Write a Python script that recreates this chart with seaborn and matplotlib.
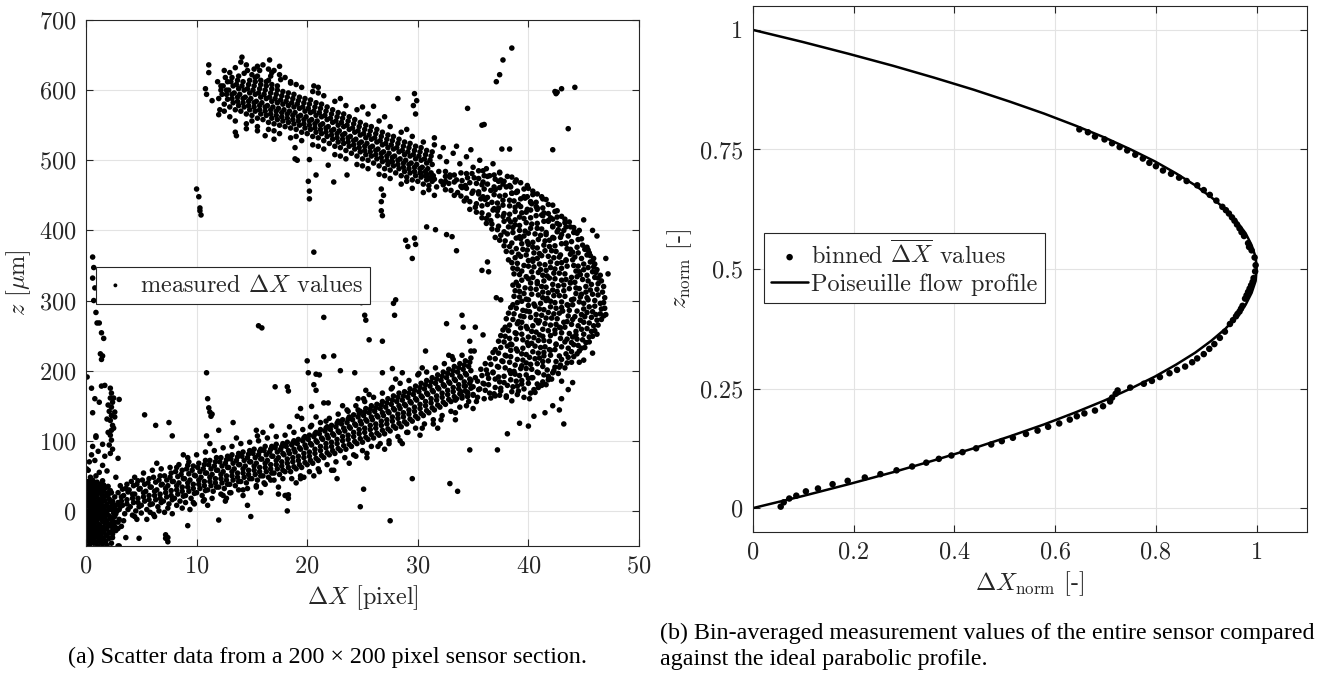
import matplotlib
matplotlib.use("Agg")
import matplotlib.pyplot as plt
import pandas as pd
import seaborn as sns

# ---------------------------------------------------------------
# (a) scatter of measured displacement vs. height
# ---------------------------------------------------------------
# dense blob near the origin
cluster = [
    (0.3, -49), (0.7, -46), (1.1, -50), (1.5, -47),
    (0.1, -43), (0.5, -40), (0.9, -44), (1.3, -41), (1.8, -43),
    (0.2, -35), (0.6, -38), (1.0, -34), (1.4, -37), (1.9, -35), (2.4, -38),
    (0.1, -29), (0.4, -31), (0.8, -28), (1.2, -32), (1.6, -29), (2.1, -31), (2.7, -28),
    (0.2, -24), (0.6, -22), (1.0, -26), (1.4, -23), (1.8, -25), (2.3, -22), (2.9, -25),
    (0.1, -17), (0.4, -19), (0.8, -16), (1.2, -20), (1.7, -17), (2.2, -19), (2.6, -16),
    (0.2, -12), (0.6, -10), (1.0, -13), (1.4, -11), (1.9, -14), (2.4, -10), (3.0, -12),
    (0.1, -5), (0.4, -7), (0.8, -4), (1.2, -8), (1.6, -5), (2.1, -7), (2.7, -4),
    (0.2, 0), (0.6, 2), (1.0, -1), (1.4, 1), (1.8, -2), (2.3, 2), (2.8, 0),
    (0.1, 7), (0.4, 5), (0.8, 8), (1.2, 4), (1.7, 7), (2.2, 5), (2.6, 8), (3.1, 6),
    (0.2, 12), (0.6, 14), (1.0, 11), (1.4, 13), (1.9, 10), (2.4, 14), (2.9, 12),
    (0.1, 19), (0.4, 17), (0.8, 20), (1.2, 16), (1.6, 19), (2.1, 17), (2.6, 20),
    (0.2, 24), (0.6, 26), (1.0, 23), (1.4, 25), (1.8, 22), (2.3, 26),
    (0.1, 31), (0.5, 29), (0.9, 32), (1.3, 30), (1.8, 33), (2.2, 29),
    (0.3, 36), (0.7, 38), (1.1, 35), (1.6, 37),
    (0.2, 42), (0.6, 44), (1.0, 41), (1.5, 43),
    (0.4, 48), (0.9, 50),
]
cluster_fill = [
    (0.5, -45), (0.9, -46), (1.3, -44),
    (0.3, -39), (0.7, -40), (1.1, -38), (1.6, -40), (2.1, -39),
    (0.3, -33), (0.6, -32), (1.0, -35), (1.4, -32), (1.8, -34), (2.4, -33),
    (0.3, -27), (0.6, -26), (1.0, -29), (1.4, -27), (1.9, -26), (2.4, -28),
    (0.4, -21), (0.8, -22), (1.2, -20), (1.6, -23), (2.0, -21), (2.6, -22),
    (0.3, -15), (0.6, -14), (1.0, -16), (1.5, -15), (1.9, -17), (2.4, -15), (2.9, -16),
    (0.3, -9), (0.8, -8), (1.2, -10), (1.7, -9), (2.2, -11), (2.6, -8),
    (0.3, -3), (0.6, -2), (1.0, -4), (1.4, -3), (1.9, -5), (2.5, -3),
    (0.4, 3), (0.8, 2), (1.2, 4), (1.6, 3), (2.0, 1), (2.6, 3),
    (0.3, 9), (0.6, 10), (1.0, 8), (1.4, 9), (1.9, 7), (2.4, 10), (2.9, 9),
    (0.4, 15), (0.8, 14), (1.2, 16), (1.7, 15), (2.2, 13),
    (0.3, 21), (0.6, 22), (1.0, 20), (1.5, 21), (2.0, 23),
    (0.4, 27), (0.8, 28), (1.2, 26), (1.6, 28), (2.0, 26),
    (0.3, 33), (0.7, 34), (1.1, 32), (1.5, 34), (2.0, 35),
    (0.5, 39), (0.9, 40), (1.3, 38),
]
cluster_edge = [
    (3.4, -14), (3.6, -38), (2.3, -46), (1.9, -49), (2.9, -50), (3.2, -22),
    (0.35, -20), (0.55, 10), (0.75, -32), (0.95, 22), (1.15, -6), (1.35, -28),
    (0.05, 60), (0.3, 70), (0.8, 72), (1.1, 85), (0.6, 92), (1.5, 65), (1.2, 55),
    (0.2, 58), (1.9, 57), (2.7, 48), (0.9, 105), (1.5, 95), (2.9, 75), (0.5, 80), (1.7, 78),
]
# thin vertical streaks close to dx = 0..2.5
streaks = [
    (2.2, 175), (2.3, 168), (2.2, 161), (2.4, 155), (2.3, 148), (2.1, 142), (2.3, 136),
    (2.2, 129), (2.4, 122), (2.3, 115), (2.2, 108), (2.3, 101), (2.1, 94), (2.5, 161),
    (2.0, 151), (2.6, 141), (1.9, 131), (2.6, 134), (2.4, 88), (2.2, 82), (3.0, 159),
    (2.5, 118), (2.0, 112),
    (0.6, 362), (0.7, 347), (0.6, 332), (0.8, 318), (0.7, 300), (0.9, 283), (1.0, 268),
    (1.2, 268), (1.4, 254), (1.6, 246), (1.3, 224), (1.4, 216), (1.5, 221), (0.1, 191),
    (0.5, 175), (1.4, 178), (1.7, 179), (0.6, 140), (0.9, 107), (1.2, 155), (0.8, 160),
]
# lower branch of the band
lower_arm = [
    (3.0, 2), (3.2, 14), (2.9, 26), (3.1, 36),
    (3.5, -4), (3.7, 10), (3.4, 22), (3.6, 32),
    (4.0, 6), (4.2, 18), (3.9, 30), (4.1, 42),
    (4.5, 0), (4.7, 12), (4.4, 24), (4.6, 38),
    (5.0, 8), (5.2, 20), (4.9, 32), (5.1, 44),
    (5.5, 2), (5.7, 16), (5.4, 28), (5.6, 40),
    (6.0, 10), (6.2, 22), (5.9, 34), (6.1, 48),
    (6.5, 6), (6.7, 18), (6.4, 30), (6.6, 44),
    (7.0, 14), (7.2, 26), (6.9, 38), (7.1, 50),
    (7.5, 10), (7.7, 22), (7.4, 36), (7.6, 48),
    (8.0, 18), (8.2, 30), (7.9, 42), (8.1, 56),
    (8.5, 14), (8.7, 28), (8.4, 40), (8.6, 52),
    (9.0, 22), (9.2, 34), (8.9, 46), (9.1, 60), (9.3, 70),
    (9.5, 18), (9.7, 32), (9.4, 44), (9.6, 58),
    (10.0, 26), (10.2, 38), (9.9, 50), (10.1, 62),
    (10.5, 22), (10.7, 36), (10.4, 48), (10.6, 60), (10.8, 72),
    (11.0, 30), (11.2, 42), (10.9, 54), (11.1, 66),
    (11.5, 28), (11.7, 40), (11.4, 52), (11.6, 64), (11.8, 76),
    (12.0, 34), (12.2, 46), (11.9, 58), (12.1, 70),
    (12.5, 32), (12.7, 44), (12.4, 56), (12.6, 68), (12.8, 78),
    (13.0, 38), (13.2, 50), (12.9, 62), (13.1, 74),
    (13.5, 36), (13.7, 48), (13.4, 60), (13.6, 72), (13.8, 82),
    (14.0, 42), (14.2, 54), (13.9, 66), (14.1, 78),
    (14.5, 40), (14.7, 52), (14.4, 64), (14.6, 76), (14.8, 86),
    (15.0, 46), (15.2, 58), (14.9, 70), (15.1, 82),
    (15.5, 44), (15.7, 56), (15.4, 68), (15.6, 80), (15.8, 88),
    (16.0, 50), (16.2, 62), (15.9, 74), (16.1, 86),
    (16.5, 48), (16.7, 60), (16.4, 72), (16.6, 84), (16.8, 92),
    (17.0, 54), (17.2, 66), (16.9, 78), (17.1, 90),
    (17.5, 52), (17.7, 64), (17.4, 76), (17.6, 88), (17.8, 96),
    (18.0, 56), (18.2, 68), (17.9, 80), (18.1, 92),
    (18.5, 56), (18.7, 70), (18.4, 82), (18.6, 94), (18.8, 100),
    (19.0, 60), (19.2, 72), (18.9, 84), (19.1, 96),
    (19.5, 62), (19.7, 76), (19.4, 88), (19.6, 100), (19.8, 106),
    (20.0, 66), (20.2, 78), (19.9, 90), (20.1, 102),
    (20.5, 68), (20.7, 82), (20.4, 94), (20.6, 106), (20.8, 112),
    (21.0, 72), (21.2, 86), (20.9, 98), (21.1, 110),
    (21.5, 76), (21.7, 90), (21.4, 102), (21.6, 114), (21.8, 120),
    (22.0, 80), (22.2, 92), (21.9, 104), (22.1, 116),
    (22.5, 82), (22.7, 96), (22.4, 108), (22.6, 120), (22.8, 128),
    (23.0, 86), (23.2, 100), (22.9, 112), (23.1, 124),
    (23.5, 88), (23.7, 102), (23.4, 114), (23.6, 126), (23.8, 134),
    (24.0, 92), (24.2, 106), (23.9, 118), (24.1, 130),
    (24.5, 96), (24.7, 110), (24.4, 122), (24.6, 134), (24.8, 142),
    (25.0, 98), (25.2, 112), (24.9, 124), (25.1, 136), (25.3, 146),
    (25.5, 102), (25.7, 116), (25.4, 128), (25.6, 140), (25.8, 150),
    (26.0, 104), (26.2, 118), (25.9, 130), (26.1, 142), (26.3, 152),
    (26.5, 108), (26.7, 122), (26.4, 134), (26.6, 146), (26.8, 156),
    (27.0, 110), (27.2, 124), (26.9, 136), (27.1, 148), (27.3, 160),
    (27.5, 114), (27.7, 128), (27.4, 140), (27.6, 152), (27.8, 164),
    (28.0, 118), (28.2, 132), (27.9, 144), (28.1, 156), (28.3, 168),
    (28.5, 120), (28.7, 134), (28.4, 146), (28.6, 158), (28.8, 170),
    (29.0, 124), (29.2, 138), (28.9, 150), (29.1, 162), (29.3, 174),
    (29.5, 128), (29.7, 142), (29.4, 154), (29.6, 166), (29.8, 178),
    (30.0, 132), (30.2, 146), (29.9, 158), (30.1, 170), (30.3, 182),
    (30.5, 136), (30.7, 150), (30.4, 162), (30.6, 174), (30.8, 186),
    (31.0, 140), (31.2, 154), (30.9, 166), (31.1, 178), (31.3, 190),
    (31.5, 144), (31.7, 158), (31.4, 170), (31.6, 182), (31.8, 194),
    (32.0, 148), (32.2, 162), (31.9, 174), (32.1, 186), (32.3, 198),
    (32.5, 152), (32.7, 166), (32.4, 178), (32.6, 190), (32.8, 202),
    (33.0, 156), (33.2, 170), (32.9, 182), (33.1, 194), (33.3, 206),
    (33.5, 160), (33.7, 174), (33.4, 186), (33.6, 198), (33.8, 210),
    (34.0, 164), (34.2, 178), (33.9, 190), (34.1, 202), (34.3, 214),
    (34.5, 168), (34.7, 182), (34.4, 194), (34.6, 206), (34.8, 218),
]
lower_fill = [
    (3.3, 8), (3.2, 20), (3.3, 31),
    (3.8, 2), (3.7, 16), (3.8, 27), (3.7, 38),
    (4.3, 12), (4.2, 24), (4.3, 36),
    (4.8, 6), (4.7, 18), (4.8, 31), (4.7, 43),
    (5.3, 14), (5.2, 26), (5.3, 38),
    (5.8, 9), (5.7, 22), (5.8, 34), (5.7, 46),
    (6.3, 16), (6.2, 28), (6.3, 41),
    (6.8, 12), (6.7, 24), (6.8, 37), (6.7, 50),
    (7.3, 20), (7.2, 32), (7.3, 44),
    (7.8, 16), (7.7, 29), (7.8, 42), (7.7, 54),
    (8.3, 24), (8.2, 36), (8.3, 49), (8.2, 62),
    (8.8, 21), (8.7, 34), (8.8, 46), (8.7, 58),
    (9.3, 28), (9.2, 40), (9.3, 53), (9.2, 65),
    (9.8, 25), (9.7, 38), (9.8, 51), (9.7, 64),
    (10.3, 32), (10.2, 44), (10.3, 56), (10.2, 68),
    (10.8, 29), (10.7, 42), (10.8, 54), (10.7, 66),
    (11.3, 36), (11.2, 48), (11.3, 60), (11.2, 72),
    (11.8, 34), (11.7, 46), (11.8, 58), (11.7, 70),
    (12.3, 40), (12.2, 52), (12.3, 64), (12.2, 76),
    (12.8, 38), (12.7, 50), (12.8, 62), (12.7, 73),
    (13.3, 44), (13.2, 56), (13.3, 68), (13.2, 80),
    (13.8, 42), (13.7, 54), (13.8, 66), (13.7, 77),
    (14.3, 48), (14.2, 60), (14.3, 72), (14.2, 84),
    (14.8, 46), (14.7, 58), (14.8, 70), (14.7, 81),
    (15.3, 52), (15.2, 64), (15.3, 76), (15.2, 88),
    (15.8, 50), (15.7, 62), (15.8, 74), (15.7, 85),
    (16.3, 56), (16.2, 68), (16.3, 80), (16.2, 92),
    (16.8, 54), (16.7, 66), (16.8, 78), (16.7, 88),
    (17.3, 60), (17.2, 72), (17.3, 84), (17.2, 95),
    (17.8, 58), (17.7, 70), (17.8, 82), (17.7, 92),
    (18.3, 62), (18.2, 74), (18.3, 86), (18.2, 98),
    (18.8, 63), (18.7, 76), (18.8, 88), (18.7, 97),
    (19.3, 66), (19.2, 78), (19.3, 90), (19.2, 102),
    (19.8, 69), (19.7, 82), (19.8, 94), (19.7, 104),
    (20.3, 72), (20.2, 84), (20.3, 96), (20.2, 108),
    (20.8, 75), (20.7, 88), (20.8, 100), (20.7, 110),
    (21.3, 79), (21.2, 92), (21.3, 104), (21.2, 116),
    (21.8, 83), (21.7, 96), (21.8, 108), (21.7, 118),
    (22.3, 86), (22.2, 98), (22.3, 110), (22.2, 122),
    (22.8, 89), (22.7, 102), (22.8, 114), (22.7, 125),
    (23.3, 93), (23.2, 106), (23.3, 118), (23.2, 130),
    (23.8, 95), (23.7, 108), (23.8, 120), (23.7, 131),
    (24.3, 99), (24.2, 112), (24.3, 124), (24.2, 137),
    (24.8, 103), (24.7, 116), (24.8, 128), (24.7, 139),
    (25.3, 105), (25.2, 118), (25.3, 130), (25.2, 141),
    (25.8, 109), (25.7, 122), (25.8, 134), (25.7, 145),
    (26.3, 111), (26.2, 124), (26.3, 136), (26.2, 147),
    (26.8, 115), (26.7, 128), (26.8, 140), (26.7, 151),
    (27.3, 117), (27.2, 130), (27.3, 142), (27.2, 154),
    (27.8, 121), (27.7, 134), (27.8, 146), (27.7, 158),
    (28.3, 125), (28.2, 138), (28.3, 150), (28.2, 162),
    (28.8, 127), (28.7, 140), (28.8, 152), (28.7, 164),
    (29.3, 131), (29.2, 144), (29.3, 156), (29.2, 168),
    (29.8, 135), (29.7, 148), (29.8, 160), (29.7, 172),
    (30.3, 139), (30.2, 152), (30.3, 164), (30.2, 176),
    (30.8, 143), (30.7, 156), (30.8, 168), (30.7, 180),
    (31.3, 147), (31.2, 160), (31.3, 172), (31.2, 184),
    (31.8, 151), (31.7, 164), (31.8, 176), (31.7, 188),
    (32.3, 155), (32.2, 168), (32.3, 180), (32.2, 192),
    (32.8, 159), (32.7, 172), (32.8, 184), (32.7, 196),
    (33.3, 163), (33.2, 176), (33.3, 188), (33.2, 200),
    (33.8, 167), (33.7, 180), (33.8, 192), (33.7, 204),
    (34.3, 171), (34.2, 184), (34.3, 196), (34.2, 208),
    (34.8, 175), (34.7, 188), (34.8, 200), (34.7, 212),
]
# ragged rims above and below the lower branch
lower_rims = [
    (4.2, -6), (5.0, -3), (5.8, -2), (6.6, 0), (7.4, 4), (8.2, 8), (9.0, 12), (9.8, 10),
    (10.6, 14), (11.4, 18), (12.2, 24), (13.0, 26), (13.8, 30), (14.6, 32), (15.4, 34),
    (16.2, 38), (17.0, 44), (17.8, 46), (18.6, 46), (19.4, 50), (20.2, 56), (21.0, 60),
    (21.8, 66), (22.6, 70), (23.4, 76), (24.2, 80), (25.0, 86), (25.8, 92), (26.6, 96),
    (27.4, 100), (28.2, 106), (29.0, 112), (29.8, 118), (30.6, 124), (31.4, 130),
    (32.2, 136), (33.0, 142), (33.8, 148), (34.6, 156), (35.4, 162),
    (4.6, -12), (6.2, -8), (7.8, -4), (9.4, 2), (11.0, 8), (12.6, 14), (14.2, 22),
    (15.8, 26), (17.4, 34), (19.0, 40), (20.6, 50), (22.2, 58), (23.8, 68), (25.4, 76),
    (27.0, 88), (28.6, 96), (30.2, 108), (31.8, 118), (33.4, 130), (35.0, 146),
    (4.4, 48), (5.2, 54), (6.0, 58), (6.8, 60), (7.6, 62), (8.4, 66), (9.2, 76), (10.0, 80),
    (10.8, 84), (11.6, 86), (12.4, 90), (13.2, 92), (14.0, 96), (14.8, 98), (15.6, 100),
    (16.4, 104), (17.2, 106), (18.0, 108), (18.8, 112), (19.6, 116), (20.4, 122),
    (21.2, 126), (22.0, 132), (22.8, 138), (23.6, 144), (24.4, 150), (25.2, 156),
    (26.0, 162), (26.8, 168), (27.6, 174), (28.4, 182), (29.2, 186), (30.0, 194),
    (30.8, 198), (31.6, 204), (32.4, 210), (33.2, 216), (34.0, 222), (34.8, 228),
    (6.4, 68), (8.8, 80), (11.2, 96), (13.6, 104), (16.0, 112), (18.4, 120), (20.8, 134),
    (23.2, 150), (25.6, 166), (28.0, 188), (30.4, 204), (32.8, 222),
]
lower_strays = [
    (4.4, -8), (5.5, -12), (6.1, -5), (7.1, -2), (7.4, -38), (7.2, -34), (8.7, 4),
    (9.7, 12), (10.7, 16), (12.4, 22), (13.1, 26), (14.2, 30), (12.7, 18), (15.4, 36),
    (16.1, 40), (16.7, 44), (17.4, 24), (18.1, 22), (18.3, 18), (19.4, 46), (19.7, 48),
    (21.1, 56), (22.4, 58), (22.7, 46), (24.4, 78), (25.4, 82), (26.4, 92), (27.4, 96),
    (28.4, 100), (29.1, 112), (30.4, 118), (31.4, 124), (32.1, 130), (33.4, 140),
    (34.4, 150), (20.3, 120), (21.7, 128), (23.7, 142), (25.1, 160), (27.7, 176),
    (30.1, 196), (33.1, 220), (35.1, 228),
]
# right-hand bulge of the band
bulge = [
    (33.4, 158), (34.5, 163), (35.3, 156), (36.6, 161), (37.4, 165), (38.5, 157), (39.6, 162),
    (33.9, 170), (35.0, 166), (36.1, 172), (36.9, 167), (38.0, 164), (39.1, 171), (40.2, 168),
    (34.3, 178), (35.6, 174), (36.4, 180), (37.5, 175), (38.6, 177), (39.4, 181), (40.5, 173), (41.2, 179),
    (34.8, 186), (35.9, 182), (37.0, 188), (37.8, 183), (38.9, 185), (40.0, 189), (40.8, 181), (41.8, 187),
    (35.2, 190), (36.3, 195), (37.3, 191), (38.4, 196), (39.2, 193), (40.3, 190), (41.4, 194), (42.2, 197),
    (35.7, 202), (36.8, 198), (37.9, 204), (38.7, 199), (39.8, 203), (40.9, 197), (41.7, 201), (42.8, 205),
    (36.1, 210), (37.2, 206), (38.3, 212), (39.4, 207), (40.2, 209), (41.3, 213), (42.4, 205), (43.5, 211),
    (36.5, 218), (37.6, 214), (38.4, 220), (39.5, 215), (40.6, 217), (41.4, 221), (42.5, 213), (43.6, 219),
    (36.8, 226), (37.9, 222), (39.0, 228), (39.8, 223), (40.9, 225), (42.0, 229), (42.8, 221), (43.9, 227), (44.4, 224),
    (37.0, 230), (38.1, 235), (38.9, 231), (40.0, 236), (41.1, 233), (41.9, 230), (43.0, 234), (44.1, 237), (44.8, 232),
    (37.3, 242), (38.4, 238), (39.5, 244), (40.3, 239), (41.4, 243), (42.5, 237), (43.3, 241), (44.4, 245), (45.2, 240),
    (37.5, 250), (38.3, 246), (39.4, 252), (40.5, 247), (41.3, 249), (42.4, 253), (43.5, 245), (44.3, 251), (45.5, 248),
    (37.7, 258), (38.8, 254), (39.9, 260), (40.7, 255), (41.8, 257), (42.9, 261), (43.7, 253), (44.8, 259), (45.7, 256),
    (37.9, 262), (39.0, 267), (39.8, 263), (40.9, 268), (42.0, 265), (42.8, 262), (43.9, 266), (45.0, 269), (45.9, 264),
    (38.0, 274), (39.1, 270), (40.2, 276), (41.0, 271), (42.1, 275), (43.2, 269), (44.0, 273), (45.1, 277), (46.2, 272),
    (38.2, 282), (39.3, 278), (40.1, 284), (41.2, 279), (42.3, 281), (43.1, 285), (44.2, 277), (45.3, 283), (46.1, 280), (46.8, 278),
    (38.4, 290), (39.5, 286), (40.6, 292), (41.4, 287), (42.5, 289), (43.6, 293), (44.4, 285), (45.5, 291), (46.6, 288),
    (38.6, 294), (39.4, 299), (40.5, 295), (41.6, 300), (42.4, 297), (43.5, 294), (44.6, 298), (45.4, 301), (46.5, 296),
    (38.7, 306), (39.8, 302), (40.9, 308), (41.7, 303), (42.8, 307), (43.9, 301), (44.7, 305), (45.8, 309), (46.9, 304),
    (38.8, 314), (39.6, 310), (40.7, 316), (41.8, 311), (42.6, 313), (43.7, 317), (44.8, 309), (45.6, 315), (46.7, 312),
    (38.6, 322), (39.7, 318), (40.8, 324), (41.6, 319), (42.7, 321), (43.8, 325), (44.6, 317), (45.7, 323), (46.8, 320),
    (38.9, 326), (40.0, 331), (40.8, 327), (41.9, 332), (43.0, 329), (43.8, 326), (44.9, 330), (46.0, 333), (46.6, 328),
    (38.7, 338), (39.8, 334), (40.9, 340), (41.7, 335), (42.8, 339), (43.9, 333), (44.7, 337), (45.8, 341), (46.5, 336),
    (38.6, 346), (39.4, 342), (40.5, 348), (41.6, 343), (42.4, 345), (43.5, 349), (44.6, 341), (45.4, 347), (46.2, 344),
    (38.5, 354), (39.6, 350), (40.4, 356), (41.5, 351), (42.6, 353), (43.4, 357), (44.5, 349), (45.6, 355), (46.0, 352),
    (38.2, 358), (39.3, 363), (40.4, 359), (41.2, 364), (42.3, 361), (43.4, 358), (44.2, 362), (45.3, 365), (45.9, 360),
    (38.0, 370), (39.1, 366), (39.9, 372), (41.0, 367), (42.1, 371), (42.9, 365), (44.0, 369), (45.1, 373), (45.5, 368),
    (37.8, 378), (38.9, 374), (40.0, 380), (40.8, 375), (41.9, 377), (43.0, 381), (43.8, 373), (44.9, 379), (45.3, 376),
    (37.4, 386), (38.5, 382), (39.3, 388), (40.4, 383), (41.5, 385), (42.3, 389), (43.4, 381), (44.5, 387),
    (37.0, 390), (38.1, 395), (39.2, 391), (40.0, 396), (41.1, 393), (42.2, 390), (43.0, 394), (44.1, 397),
    (36.7, 402), (37.8, 398), (38.6, 404), (39.7, 399), (40.8, 403), (41.6, 397), (42.7, 401), (43.8, 405),
    (36.2, 410), (37.3, 406), (38.4, 412), (39.2, 407), (40.3, 409), (41.4, 413), (42.2, 405), (43.3, 411),
    (35.8, 418), (36.6, 414), (37.7, 420), (38.8, 415), (39.6, 417), (40.7, 421), (41.8, 413), (42.6, 419), (43.3, 416),
    (35.3, 426), (36.4, 422), (37.2, 428), (38.3, 423), (39.4, 425), (40.2, 429), (41.3, 421), (42.4, 427),
    (34.7, 430), (35.8, 435), (36.9, 431), (37.7, 436), (38.8, 433), (39.9, 430), (40.7, 434), (41.8, 437),
    (34.2, 442), (35.3, 438), (36.1, 444), (37.2, 439), (38.3, 443), (39.1, 437), (40.2, 441), (41.3, 445),
    (33.3, 450), (34.4, 446), (35.5, 452), (36.3, 447), (37.4, 449), (38.5, 453), (39.3, 445), (40.4, 451), (41.2, 448),
    (32.5, 458), (33.6, 454), (34.4, 460), (35.5, 455), (36.6, 457), (37.4, 461), (38.5, 453), (39.6, 459), (40.4, 456),
    (31.7, 462), (32.8, 467), (33.9, 463), (34.7, 468), (35.8, 465), (36.9, 462), (37.7, 466), (38.8, 469), (39.9, 464),
    (31.0, 474), (32.1, 470), (32.9, 476), (34.0, 471), (35.1, 475), (35.9, 469), (37.0, 473), (38.1, 477), (38.9, 472),
    (30.3, 482), (31.4, 478), (32.5, 484), (33.3, 479), (34.4, 481), (35.5, 485), (36.3, 477), (37.4, 483),
]
bulge_fill = [
    (34.0, 161), (35.0, 165), (36.0, 160), (37.0, 164), (38.0, 162), (39.0, 166), (40.1, 160),
    (34.5, 169), (35.5, 173), (36.5, 168), (37.5, 171), (38.5, 170), (39.6, 174), (40.6, 169),
    (35.0, 177), (36.0, 181), (37.0, 176), (38.1, 179), (39.0, 178), (40.0, 182), (40.9, 176), (41.6, 180),
    (35.4, 185), (36.4, 189), (37.4, 184), (38.4, 187), (39.4, 186), (40.4, 190), (41.3, 184), (42.1, 188),
    (35.8, 193), (36.8, 197), (37.8, 192), (38.8, 195), (39.8, 194), (40.8, 198), (41.8, 192), (42.7, 196),
    (36.2, 201), (37.3, 205), (38.3, 200), (39.3, 203), (40.3, 202), (41.3, 206), (42.3, 200), (43.3, 204),
    (36.6, 209), (37.7, 213), (38.8, 208), (39.8, 211), (40.8, 210), (41.8, 214), (42.9, 208), (43.9, 212),
    (37.0, 217), (38.0, 221), (39.0, 216), (40.1, 219), (41.0, 218), (42.0, 222), (43.0, 216), (44.1, 220),
    (37.3, 225), (38.4, 229), (39.4, 224), (40.4, 227), (41.4, 226), (42.4, 230), (43.4, 224), (44.6, 228),
    (37.5, 233), (38.5, 237), (39.5, 232), (40.6, 235), (41.5, 234), (42.5, 238), (43.6, 232), (44.5, 236), (45.1, 233),
    (37.8, 241), (38.9, 245), (39.9, 240), (40.9, 243), (41.9, 242), (42.9, 246), (43.9, 240), (44.9, 244), (45.5, 241),
    (37.9, 249), (38.9, 253), (40.0, 248), (41.0, 251), (42.0, 250), (43.0, 254), (44.0, 248), (45.0, 252), (45.8, 249),
    (38.2, 257), (39.3, 261), (40.3, 256), (41.3, 259), (42.4, 258), (43.3, 262), (44.3, 256), (45.3, 260), (46.0, 257),
    (38.3, 265), (39.4, 269), (40.4, 264), (41.5, 267), (42.5, 266), (43.5, 270), (44.5, 264), (45.5, 268), (46.3, 265),
    (38.6, 273), (39.6, 277), (40.7, 272), (41.6, 275), (42.6, 274), (43.6, 278), (44.7, 272), (45.7, 276), (46.6, 273),
    (38.7, 281), (39.8, 285), (40.7, 280), (41.8, 283), (42.8, 282), (43.7, 286), (44.8, 280), (45.8, 284), (46.5, 281),
    (38.9, 289), (40.0, 293), (41.0, 288), (42.0, 291), (43.0, 290), (44.0, 294), (45.0, 288), (46.0, 292), (46.9, 289),
    (39.0, 297), (40.0, 301), (41.1, 296), (42.0, 299), (43.0, 298), (44.1, 302), (45.0, 296), (46.0, 300), (46.8, 297),
    (39.2, 305), (40.3, 309), (41.3, 304), (42.3, 307), (43.3, 306), (44.3, 310), (45.3, 304), (46.3, 308),
    (39.2, 313), (40.2, 317), (41.3, 312), (42.2, 315), (43.2, 314), (44.3, 318), (45.2, 312), (46.2, 316),
    (39.1, 321), (40.2, 325), (41.2, 320), (42.2, 323), (43.2, 322), (44.2, 326), (45.2, 320), (46.3, 324),
    (39.4, 329), (40.4, 333), (41.4, 328), (42.4, 331), (43.4, 330), (44.4, 334), (45.4, 328), (46.3, 332),
    (39.2, 337), (40.3, 341), (41.3, 336), (42.3, 339), (43.3, 338), (44.3, 342), (45.3, 336), (46.1, 340),
    (39.0, 345), (40.0, 349), (41.1, 344), (42.0, 347), (43.0, 346), (44.1, 350), (45.0, 344), (45.9, 348),
    (39.0, 353), (40.0, 357), (41.0, 352), (42.0, 355), (43.0, 354), (44.0, 358), (45.0, 352), (45.8, 356),
    (38.8, 361), (39.8, 365), (40.8, 360), (41.8, 363), (42.8, 362), (43.8, 366), (44.8, 360), (45.6, 364),
    (38.5, 369), (39.5, 373), (40.5, 368), (41.5, 371), (42.5, 370), (43.5, 374), (44.5, 368), (45.4, 372),
    (38.3, 377), (39.4, 381), (40.4, 376), (41.4, 379), (42.4, 378), (43.4, 382), (44.4, 376),
    (37.9, 385), (38.9, 389), (39.9, 384), (40.9, 387), (41.9, 386), (42.9, 390), (43.9, 384), (44.8, 388),
    (37.5, 393), (38.6, 397), (39.6, 392), (40.6, 395), (41.6, 394), (42.6, 398), (43.6, 392), (44.4, 396),
    (37.2, 401), (38.2, 405), (39.2, 400), (40.2, 403), (41.2, 402), (42.2, 406), (43.2, 400), (44.1, 404),
    (36.7, 409), (37.8, 413), (38.8, 408), (39.8, 411), (40.8, 410), (41.8, 414), (42.8, 408), (43.7, 412),
    (36.2, 417), (37.2, 421), (38.2, 416), (39.2, 419), (40.2, 418), (41.2, 422), (42.2, 416), (43.0, 420),
    (35.8, 425), (36.8, 429), (37.8, 424), (38.8, 427), (39.8, 426), (40.8, 430), (41.8, 424), (42.6, 428),
    (35.2, 433), (36.3, 437), (37.3, 432), (38.3, 435), (39.3, 434), (40.3, 438), (41.3, 432), (42.2, 436),
    (34.7, 441), (35.7, 445), (36.7, 440), (37.7, 443), (38.7, 442), (39.7, 446), (40.7, 440), (41.6, 444),
    (33.9, 449), (34.9, 453), (35.9, 448), (36.9, 451), (37.9, 450), (38.9, 454), (39.9, 448), (40.8, 452),
    (33.0, 457), (34.0, 461), (35.0, 456), (36.0, 459), (37.0, 458), (38.0, 462), (39.0, 456), (40.0, 460),
    (32.3, 465), (33.3, 469), (34.3, 464), (35.3, 467), (36.3, 466), (37.3, 470), (38.3, 464), (39.3, 468),
    (31.5, 473), (32.5, 477), (33.5, 472), (34.5, 475), (35.5, 474), (36.5, 478), (37.5, 472), (38.5, 476),
    (30.8, 480), (31.9, 484), (32.9, 479), (33.9, 482), (34.9, 481), (35.9, 485), (36.9, 479),
]
# upper branch of the band
upper_arm = [
    (12.0, 588), (12.2, 600), (11.9, 612),
    (12.5, 580), (12.7, 594), (12.4, 606), (12.6, 618),
    (13.0, 576), (13.2, 588), (12.9, 600), (13.1, 612),
    (13.5, 572), (13.7, 584), (13.4, 596), (13.6, 608), (13.8, 620),
    (14.0, 570), (14.2, 582), (13.9, 594), (14.1, 606),
    (14.5, 566), (14.7, 578), (14.4, 590), (14.6, 602), (14.8, 614),
    (15.0, 564), (15.2, 576), (14.9, 588), (15.1, 600), (15.3, 612),
    (15.5, 560), (15.7, 572), (15.4, 584), (15.6, 596), (15.8, 608), (15.5, 620),
    (16.0, 558), (16.2, 570), (15.9, 582), (16.1, 594), (16.3, 606),
    (16.5, 554), (16.7, 566), (16.4, 578), (16.6, 590), (16.8, 602), (16.5, 614),
    (17.0, 552), (17.2, 564), (16.9, 576), (17.1, 588), (17.3, 600),
    (17.5, 550), (17.7, 562), (17.4, 574), (17.6, 586), (17.8, 598),
    (18.0, 548), (18.2, 560), (17.9, 572), (18.1, 584), (18.3, 596),
    (18.5, 546), (18.7, 558), (18.4, 570), (18.6, 582), (18.8, 594),
    (19.0, 544), (19.2, 556), (18.9, 568), (19.1, 580), (19.3, 590),
    (19.5, 540), (19.7, 552), (19.4, 564), (19.6, 576), (19.8, 588),
    (20.0, 538), (20.2, 550), (19.9, 562), (20.1, 574), (20.3, 586),
    (20.5, 534), (20.7, 546), (20.4, 558), (20.6, 570), (20.8, 582),
    (21.0, 532), (21.2, 544), (20.9, 556), (21.1, 568), (21.3, 580),
    (21.5, 528), (21.7, 540), (21.4, 552), (21.6, 564), (21.8, 576),
    (22.0, 524), (22.2, 536), (21.9, 548), (22.1, 560), (22.3, 572),
    (22.5, 520), (22.7, 532), (22.4, 544), (22.6, 556), (22.8, 568),
    (23.0, 518), (23.2, 530), (22.9, 542), (23.1, 554), (23.3, 566),
    (23.5, 514), (23.7, 526), (23.4, 538), (23.6, 550), (23.8, 562),
    (24.0, 510), (24.2, 522), (23.9, 534), (24.1, 546), (24.3, 558),
    (24.5, 506), (24.7, 518), (24.4, 530), (24.6, 542), (24.8, 554),
    (25.0, 502), (25.2, 514), (24.9, 526), (25.1, 538), (25.3, 550),
    (25.5, 500), (25.7, 512), (25.4, 524), (25.6, 536), (25.8, 548),
    (26.0, 496), (26.2, 508), (25.9, 520), (26.1, 532), (26.3, 544),
    (26.5, 492), (26.7, 504), (26.4, 516), (26.6, 528), (26.8, 540),
    (27.0, 488), (27.2, 500), (26.9, 512), (27.1, 524), (27.3, 536),
    (27.5, 486), (27.7, 498), (27.4, 510), (27.6, 522), (27.8, 534),
    (28.0, 482), (28.2, 494), (27.9, 506), (28.1, 518), (28.3, 530),
    (28.5, 478), (28.7, 490), (28.4, 502), (28.6, 514), (28.8, 526),
    (29.0, 476), (29.2, 488), (28.9, 500), (29.1, 512), (29.3, 524),
    (29.5, 472), (29.7, 484), (29.4, 496), (29.6, 508), (29.8, 520),
    (30.0, 470), (30.2, 482), (29.9, 494), (30.1, 506), (30.3, 518),
    (30.5, 466), (30.7, 478), (30.4, 490), (30.6, 502), (30.8, 514),
    (31.0, 464), (31.2, 476), (30.9, 488), (31.1, 500), (31.3, 512),
    (32.0, 505), (32.6, 498), (33.2, 510), (33.8, 495), (34.4, 505), (35.0, 490),
    (35.6, 500), (36.2, 488), (36.8, 495), (37.4, 482), (32.3, 518), (33.5, 520),
    (31.5, 522), (34.8, 515), (36.0, 478), (37.8, 470), (38.4, 462), (39.0, 455),
    (39.6, 448), (40.2, 440), (40.8, 432), (41.4, 425), (42.0, 418), (42.6, 410),
    (43.4, 405), (44.2, 398),
]
upper_fill = [
    (12.3, 594), (12.2, 606),
    (12.8, 587), (12.7, 600), (12.8, 612),
    (13.3, 582), (13.2, 594), (13.3, 606), (13.2, 618),
    (13.8, 578), (13.7, 590), (13.8, 602), (13.7, 614),
    (14.3, 576), (14.2, 588), (14.3, 600), (14.2, 612), (14.3, 624),
    (14.8, 572), (14.7, 584), (14.8, 596), (14.7, 608),
    (15.3, 570), (15.2, 582), (15.3, 594), (15.2, 606), (15.3, 618),
    (15.8, 566), (15.7, 578), (15.8, 590), (15.7, 602), (15.8, 614), (15.7, 628),
    (16.3, 564), (16.2, 576), (16.3, 588), (16.2, 600), (16.3, 612),
    (16.8, 560), (16.7, 572), (16.8, 584), (16.7, 596), (16.8, 608), (16.7, 620),
    (17.3, 558), (17.2, 570), (17.3, 582), (17.2, 594), (17.3, 606),
    (17.8, 556), (17.7, 568), (17.8, 580), (17.7, 592),
    (18.3, 554), (18.2, 566), (18.3, 578), (18.2, 590),
    (18.8, 552), (18.7, 564), (18.8, 576), (18.7, 588),
    (19.3, 550), (19.2, 562), (19.3, 574), (19.2, 585),
    (19.8, 546), (19.7, 558), (19.8, 570), (19.7, 582),
    (20.3, 544), (20.2, 556), (20.3, 568), (20.2, 580),
    (20.8, 540), (20.7, 552), (20.8, 564), (20.7, 576),
    (21.3, 538), (21.2, 550), (21.3, 562), (21.2, 574),
    (21.8, 534), (21.7, 546), (21.8, 558), (21.7, 570),
    (22.3, 530), (22.2, 542), (22.3, 554), (22.2, 566),
    (22.8, 526), (22.7, 538), (22.8, 550), (22.7, 562),
    (23.3, 524), (23.2, 536), (23.3, 548), (23.2, 560),
    (23.8, 520), (23.7, 532), (23.8, 544), (23.7, 556),
    (24.3, 516), (24.2, 528), (24.3, 540), (24.2, 552),
    (24.8, 512), (24.7, 524), (24.8, 536), (24.7, 548),
    (25.3, 508), (25.2, 520), (25.3, 532), (25.2, 544),
    (25.8, 506), (25.7, 518), (25.8, 530), (25.7, 542),
    (26.3, 502), (26.2, 514), (26.3, 526), (26.2, 538),
    (26.8, 498), (26.7, 510), (26.8, 522), (26.7, 534),
    (27.3, 494), (27.2, 506), (27.3, 518), (27.2, 530),
    (27.8, 492), (27.7, 504), (27.8, 516), (27.7, 528),
    (28.3, 488), (28.2, 500), (28.3, 512), (28.2, 524),
    (28.8, 484), (28.7, 496), (28.8, 508), (28.7, 520),
    (29.3, 482), (29.2, 494), (29.3, 506), (29.2, 518),
    (29.8, 478), (29.7, 490), (29.8, 502), (29.7, 514),
    (30.3, 476), (30.2, 488), (30.3, 500), (30.2, 512),
    (30.8, 472), (30.7, 484), (30.8, 496), (30.7, 508),
    (31.3, 470), (31.2, 482), (31.3, 494), (31.2, 506),
    (13.5, 540), (14.5, 545), (15.5, 542), (16.2, 535), (17.0, 530), (16.8, 625),
    (15.2, 630), (14.6, 628), (17.6, 615), (18.5, 610),
]
# ragged rims above and below the upper branch
upper_rims = [
    (12.5, 628), (13.5, 632), (14.5, 636), (15.5, 634), (16.5, 630), (17.5, 622),
    (18.5, 612), (19.5, 604), (20.5, 598), (21.5, 592), (22.5, 584), (23.5, 578),
    (24.5, 572), (25.5, 566), (26.5, 556), (27.5, 548), (28.5, 540), (29.5, 534),
    (30.5, 526), (31.5, 532),
    (12.5, 570), (13.5, 556), (14.5, 552), (15.5, 548), (16.5, 544), (17.5, 538),
    (18.5, 532), (19.5, 528), (20.5, 522), (21.5, 516), (22.5, 508), (23.5, 502),
    (24.5, 494), (25.5, 488), (26.5, 480), (27.5, 474), (28.5, 466), (29.5, 460),
    (30.5, 454), (31.5, 450),
    (13.0, 625), (14.0, 640), (15.0, 622), (16.0, 636), (17.0, 628), (18.0, 618),
    (19.0, 608), (21.0, 596), (23.0, 588), (25.0, 576), (27.0, 562), (29.0, 544),
    (13.0, 562), (15.0, 556), (17.0, 542), (19.0, 534), (21.0, 520), (23.0, 506),
    (25.0, 492), (27.0, 478), (29.0, 470), (31.0, 458),
]
# isolated points away from the band
outliers = [
    (38.5, 660), (37.7, 643), (37.4, 622), (37.1, 612), (44.2, 604), (43.0, 602), (42.4, 598),
    (42.5, 595), (42.6, 597), (43.6, 545), (42.2, 515), (34.5, 574), (35.8, 550), (36.0, 551),
    (37.6, 516), (38.3, 516), (29.7, 595), (29.9, 585), (29.8, 566), (29.6, 578), (28.2, 588),
    (26.0, 577), (20.6, 606), (21.0, 604), (14.1, 647), (16.6, 643), (17.5, 634), (11.1, 636),
    (11.1, 625), (10.8, 602), (10.9, 594), (11.4, 585), (12.0, 565), (12.1, 572), (13.6, 535),
    (10.0, 459), (10.2, 448), (10.3, 432), (10.4, 422), (10.3, 428),
    (20.6, 369), (15.6, 264), (15.9, 261), (24.9, 297), (25.2, 279), (25.3, 272), (25.6, 244),
    (26.8, 242), (27.8, 296), (28.0, 301), (27.9, 279), (28.9, 386), (29.1, 377), (29.5, 360),
    (29.8, 380), (32.6, 267), (34.0, 279), (30.7, 228),
    (29.5, 46), (32.9, 39), (33.6, 28), (34.7, 87), (37.2, 87), (40.0, 121), (43.2, 124),
    (38.1, 110), (24.8, 6), (25.1, 31), (27.5, -14), (12.0, -13), (14.9, -8), (14.6, 8),
    (18.2, 0), (18.0, 22), (18.3, 23), (9.2, -21), (7.2, -39), (7.4, -44), (4.8, -39), (3.0, -50),
    (16.8, 121), (17.1, 177), (18.2, 177), (18.3, 171), (15.4, 115), (15.5, 107), (13.3, 126),
    (12.0, 115), (10.9, 107), (10.9, 197), (11.0, 160), (11.2, 141), (11.3, 135), (11.1, 147),
    (11.4, 138), (7.8, 107), (7.5, 126), (6.3, 122), (5.3, 137), (19.1, 135), (19.5, 132),
    (19.4, 146), (20.4, 149), (20.0, 214), (20.1, 197), (20.6, 180), (20.8, 172), (21.5, 220),
    (22.4, 221), (21.5, 154), (21.9, 154), (21.5, 276), (20.8, 195), (21.1, 194), (23.0, 200),
    (24.3, 197), (24.6, 160), (24.6, 144), (26.8, 197), (27.7, 203), (28.6, 197), (25.3, 172),
    (18.9, 518), (18.9, 502), (19.1, 500), (20.2, 501), (20.1, 470), (20.2, 456), (20.2, 445),
    (20.8, 479), (21.9, 493), (22.4, 469), (23.6, 479), (26.7, 459), (26.9, 450), (26.7, 441),
    (26.7, 428), (26.8, 421), (27.6, 498), (32.6, 394), (33.1, 391), (31.6, 401), (30.8, 405),
    (32.5, 470), (35.8, 343), (36.4, 341), (36.3, 355), (37.1, 304), (37.5, 301), (34.1, 262),
    (35.2, 262), (35.9, 251), (34.7, 242), (29.7, 389), (33.5, 371),
    (45.0, 415), (44.6, 400), (45.8, 400), (46.2, 392), (47.0, 360), (47.2, 338), (47.0, 280),
    (46.2, 252), (45.8, 225), (44.6, 212), (45.0, 215), (44.0, 183), (43.0, 185), (43.6, 173),
    (43.0, 160), (42.2, 150), (42.8, 144), (41.5, 140), (40.5, 135), (39.2, 125),
]

# ---------------------------------------------------------------
# (b) bin-averaged values and the ideal parabola
# ---------------------------------------------------------------
binned = [
    (0.055, 0.003), (0.061, 0.012), (0.072, 0.020), (0.086, 0.026), (0.105, 0.035),
    (0.129, 0.041), (0.158, 0.050), (0.188, 0.057), (0.222, 0.064), (0.253, 0.071),
    (0.285, 0.079), (0.316, 0.087), (0.344, 0.095), (0.369, 0.103), (0.394, 0.110),
    (0.416, 0.117), (0.443, 0.125), (0.473, 0.133), (0.494, 0.140), (0.516, 0.147),
    (0.542, 0.155), (0.565, 0.162), (0.586, 0.170), (0.608, 0.177), (0.629, 0.185),
    (0.643, 0.192), (0.658, 0.198), (0.679, 0.204), (0.695, 0.213), (0.709, 0.223),
    (0.713, 0.231), (0.720, 0.239), (0.724, 0.246), (0.749, 0.252), (0.776, 0.260),
    (0.792, 0.266), (0.808, 0.274), (0.827, 0.282), (0.842, 0.289), (0.858, 0.296),
    (0.872, 0.305), (0.882, 0.313), (0.895, 0.322), (0.906, 0.333), (0.916, 0.343),
    (0.927, 0.356), (0.937, 0.369), (0.947, 0.385), (0.953, 0.393), (0.959, 0.401),
    (0.962, 0.406), (0.966, 0.411), (0.969, 0.417), (0.972, 0.423), (0.977, 0.438),
    (0.980, 0.445), (0.983, 0.452), (0.986, 0.459), (0.989, 0.466), (0.992, 0.473),
    (0.994, 0.481), (0.997, 0.495), (0.998, 0.508), (0.996, 0.524), (0.990, 0.539),
    (0.985, 0.546), (0.983, 0.554), (0.975, 0.569), (0.970, 0.577), (0.966, 0.585),
    (0.961, 0.593), (0.956, 0.601), (0.951, 0.608), (0.945, 0.616), (0.939, 0.623),
    (0.932, 0.630), (0.920, 0.643), (0.907, 0.655), (0.895, 0.665), (0.882, 0.675),
    (0.861, 0.684), (0.846, 0.691), (0.830, 0.699), (0.814, 0.706), (0.800, 0.715),
    (0.787, 0.722), (0.774, 0.731), (0.759, 0.739), (0.743, 0.748), (0.728, 0.755),
    (0.713, 0.763), (0.698, 0.771), (0.679, 0.777), (0.665, 0.786), (0.648, 0.792),
]
profile_z = [0.0, 0.025, 0.05, 0.075, 0.1, 0.125, 0.15, 0.175, 0.2, 0.225, 0.25,
             0.275, 0.3, 0.325, 0.35, 0.375, 0.4, 0.425, 0.45, 0.475, 0.5,
             0.525, 0.55, 0.575, 0.6, 0.625, 0.65, 0.675, 0.7, 0.725, 0.75,
             0.775, 0.8, 0.825, 0.85, 0.875, 0.9, 0.925, 0.95, 0.975, 1.0]
profile_x = [0.0, 0.098, 0.19, 0.278, 0.36, 0.438, 0.51, 0.578, 0.64, 0.698, 0.75,
             0.798, 0.84, 0.878, 0.91, 0.938, 0.96, 0.978, 0.99, 0.998, 1.0,
             0.998, 0.99, 0.978, 0.96, 0.938, 0.91, 0.878, 0.84, 0.798, 0.75,
             0.698, 0.64, 0.578, 0.51, 0.438, 0.36, 0.278, 0.19, 0.098, 0.0]

captions = ["(a) Scatter data from a 200 \u00d7 200 pixel sensor section.",
            "(b) Bin-averaged measurement values of the entire sensor compared",
            "against the ideal parabolic profile."]

# ---------------------------------------------------------------
sns.set_theme(style="whitegrid")
ink = "#262626"
plt.rcParams.update({
    "font.family": "cmr10",
    "mathtext.fontset": "cm",
    "axes.formatter.use_mathtext": True,
    "axes.unicode_minus": False,
    "text.color": ink,
    "axes.labelcolor": ink,
    "xtick.color": ink,
    "ytick.color": ink,
    "axes.edgecolor": ink,
    "axes.linewidth": 0.8,
    "grid.color": "#e3e3e3",
    "grid.linewidth": 0.8,
    "xtick.direction": "in",
    "ytick.direction": "in",
    "xtick.top": True,
    "xtick.bottom": True,
    "ytick.left": True,
    "ytick.right": True,
    "xtick.major.size": 5,
    "ytick.major.size": 5,
    "xtick.major.width": 0.8,
    "ytick.major.width": 0.8,
    "xtick.major.pad": 7,
    "ytick.major.pad": 7,
    "xtick.labelsize": 17.5,
    "ytick.labelsize": 17.5,
    "axes.labelsize": 17.5,
    "legend.fontsize": 17.5,
})

fig = plt.figure(figsize=(13.26, 6.99), dpi=100)
ax1 = fig.add_axes([86 / 1326, 1 - 546 / 699, 553 / 1326, 526 / 699])
ax2 = fig.add_axes([753 / 1326, 1 - 532 / 699, 554 / 1326, 526 / 699])

# left panel
scatter_df = pd.DataFrame(cluster + cluster_fill + cluster_edge + streaks + lower_arm
                          + lower_fill + lower_rims + lower_strays + bulge + bulge_fill
                          + upper_arm + upper_fill + upper_rims + outliers,
                          columns=["dx", "z"])
sns.scatterplot(data=scatter_df, x="dx", y="z", ax=ax1, s=16, color="black",
                edgecolor="none", linewidth=0, label=r"measured $\Delta X$ values")
ax1.set_xlim(0, 50)
ax1.set_ylim(-50, 700)
ax1.set_xticks(range(0, 51, 10))
ax1.set_yticks(range(0, 701, 100))
ax1.set_xlabel(r"$\Delta X$ [pixel]")
ax1.set_ylabel(r"$z$ [$\mu$m]")
leg1 = ax1.legend(loc="lower left", bbox_to_anchor=(0.018, 0.46), borderaxespad=0,
                  fancybox=False, framealpha=1, edgecolor=ink, handlelength=1.0,
                  handletextpad=0.5, borderpad=0.3, markerscale=0.7)
leg1.get_frame().set_linewidth(0.8)

# right panel
binned_df = pd.DataFrame(binned, columns=["dx", "z"])
profile_df = pd.DataFrame({"dx": profile_x, "z": profile_z})
sns.scatterplot(data=binned_df, x="dx", y="z", ax=ax2, s=22, color="black",
                edgecolor="none", linewidth=0, label=r"binned $\overline{\Delta X}$ values")
sns.lineplot(data=profile_df, x="dx", y="z", ax=ax2, sort=False, estimator=None,
             color="black", linewidth=1.8, label="Poiseuille flow profile")
ax2.set_xlim(0, 1.1)
ax2.set_ylim(-0.05, 1.05)
ax2.set_xticks([0, 0.2, 0.4, 0.6, 0.8, 1.0])
ax2.set_xticklabels(["0", "0.2", "0.4", "0.6", "0.8", "1"])
ax2.set_yticks([0, 0.25, 0.5, 0.75, 1.0])
ax2.set_yticklabels(["0", "0.25", "0.5", "0.75", "1"])
ax2.set_xlabel(r"$\Delta X_\mathrm{norm}$ [-]")
ax2.set_ylabel(r"$z_\mathrm{norm}$ [-]")
leg2 = ax2.legend(loc="lower left", bbox_to_anchor=(0.02, 0.435), borderaxespad=0,
                  fancybox=False, framealpha=1, edgecolor=ink, handlelength=1.5,
                  handletextpad=0.15, borderpad=0.3, labelspacing=0.2)
leg2.get_frame().set_linewidth(0.8)

for ax in (ax1, ax2):
    ax.grid(True)
    ax.set_axisbelow(True)
    for sp in ax.spines.values():
        sp.set_color(ink)
        sp.set_linewidth(0.8)

# sub-captions
cap_font = dict(family="Liberation Serif", fontsize=17.3, color="black")
fig.text(327 / 1326, 1 - 657 / 699, captions[0], ha="center", va="center", **cap_font)
fig.text(660 / 1326, 1 - 633 / 699, captions[1], ha="left", va="center", **cap_font)
fig.text(660 / 1326, 1 - 660 / 699, captions[2], ha="left", va="center", **cap_font)

fig.savefig("out.png", dpi=100)
